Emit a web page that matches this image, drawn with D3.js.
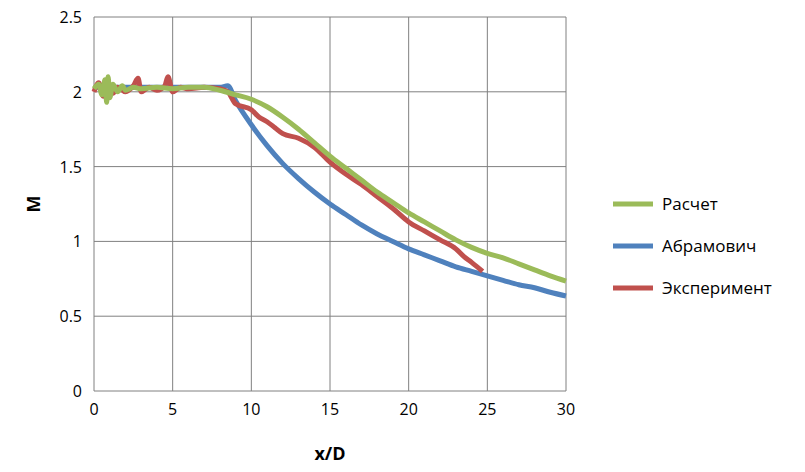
<!DOCTYPE html>
<html><head><meta charset="utf-8">
<script src="https://cdn.jsdelivr.net/npm/d3@7"></script>
<style>body{margin:0;background:#fff}text{font-family:"Open Sans","Liberation Sans",sans-serif}</style>
</head><body><svg width="805" height="472"></svg>
<script>
// Series: [x/D, M]
const raschet = [[0,2.02],[0.3,2.05],[0.5,1.98],[0.7,2.08],[0.8,1.93],[0.9,2.1],[1.0,1.96],[1.2,2.05],[1.5,2.0],[1.8,2.04],[2,2.01],[2.5,2.03],[3,2.02],[4,2.03],[5,2.02],[6,2.03],[7,2.03],[8,2.01],[9,1.98],[10,1.95],[11,1.9],[12,1.83],[13,1.75],[14,1.66],[15,1.57],[16,1.49],[17,1.41],[18,1.33],[19,1.26],[20,1.19],[21,1.13],[22,1.07],[23,1.01],[24,0.96],[25,0.92],[26,0.89],[27,0.85],[28,0.81],[29,0.77],[30,0.735]];
const abramovich = [[0,2.03],[2,2.03],[4,2.03],[6,2.03],[8,2.03],[8.5,2.04],[9,1.94],[10,1.78],[11,1.64],[12,1.52],[13,1.42],[14,1.33],[15,1.25],[16,1.18],[17,1.11],[18,1.05],[19,1.0],[20,0.95],[21,0.91],[22,0.87],[23,0.83],[24,0.8],[25,0.77],[26,0.74],[27,0.71],[28,0.69],[29,0.66],[30,0.635]];
const eksperiment = [[0,2.0],[0.3,2.06],[0.6,1.97],[0.9,2.05],[1.2,1.99],[1.5,2.03],[2,2.0],[2.5,2.04],[2.8,2.09],[3,2.0],[3.5,2.03],[4,2.01],[4.5,2.04],[4.7,2.1],[5,2.0],[5.5,2.03],[6,2.02],[7,2.03],[8,2.02],[8.5,2.0],[9,1.92],[10,1.88],[10.5,1.83],[11,1.8],[11.5,1.76],[12,1.72],[13,1.69],[14,1.63],[15,1.53],[16,1.45],[17,1.38],[18,1.3],[19,1.22],[20,1.13],[21,1.07],[22,1.01],[23,0.95],[23.5,0.9],[24,0.86],[24.7,0.8]];
const series = [
  {name:'Расчет', data:raschet, color:'#9bbb59'},
  {name:'Абрамович', data:abramovich, color:'#4f81bd'},
  {name:'Эксперимент', data:eksperiment, color:'#c0504d'}
];
const drawOrder = [1, 2, 0];
const xTicks = [0,5,10,15,20,25,30];
const yTicks = [0,0.5,1,1.5,2,2.5];

const svg = d3.select('svg');
const x = d3.scaleLinear().domain([0,30]).range([94,566]);
const y = d3.scaleLinear().domain([0,2.5]).range([391,17]);

// grid
svg.append('g').selectAll('line').data(xTicks).enter().append('line')
  .attr('x1', d => x(d)).attr('x2', d => x(d)).attr('y1', y(0)).attr('y2', y(2.5))
  .attr('stroke', '#808080').attr('stroke-width', 1);
svg.append('g').selectAll('line').data(yTicks).enter().append('line')
  .attr('x1', x(0)).attr('x2', x(30)).attr('y1', d => y(d)).attr('y2', d => y(d))
  .attr('stroke', '#808080').attr('stroke-width', 1);

// tick labels
svg.append('g').selectAll('text').data(xTicks).enter().append('text')
  .attr('x', d => x(d)).attr('y', y(0) + 24).attr('text-anchor', 'middle')
  .attr('font-size', 16).text(d => d);
svg.append('g').selectAll('text').data(yTicks).enter().append('text')
  .attr('x', x(0) - 12).attr('y', d => y(d) + 6).attr('text-anchor', 'end')
  .attr('font-size', 16).text(d => d);

// axis titles
svg.append('text').attr('x', x(15)).attr('y', 460).attr('text-anchor', 'middle')
  .attr('font-size', 18).attr('font-weight', 'bold').text('x/D');
svg.append('text').attr('transform', 'translate(40,' + y(1.25) + ') rotate(-90)')
  .attr('text-anchor', 'middle').attr('font-size', 18).attr('font-weight', 'bold').text('M');

// lines
const line = d3.line().curve(d3.curveMonotoneX).x(d => x(d[0])).y(d => y(d[1]));
drawOrder.forEach(function (i) {
  svg.append('path').datum(series[i].data).attr('d', line)
    .attr('fill', 'none').attr('stroke', series[i].color).attr('stroke-width', 5)
    .attr('stroke-linejoin', 'round');
});

// legend
const lg = svg.append('g').attr('transform', 'translate(613,204)');
series.forEach(function (s, i) {
  const gy = i * 42;
  lg.append('line').attr('x1', 0).attr('x2', 40).attr('y1', gy).attr('y2', gy)
    .attr('stroke', s.color).attr('stroke-width', 5);
  lg.append('text').attr('x', 49).attr('y', gy + 6).attr('font-size', 17).text(s.name);
});
</script></body></html>
